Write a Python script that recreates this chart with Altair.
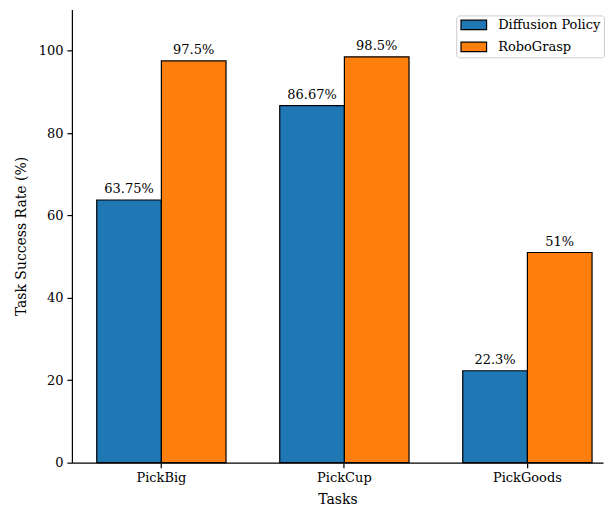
import altair as alt
import pandas as pd

tasks = ["PickBig", "PickCup", "PickGoods"]
methods = ["Diffusion Policy", "RoboGrasp"]
diffusion = [63.75, 86.67, 22.3]
robograsp = [97.5, 98.5, 51.0]
label_diffusion = ["63.75%", "86.67%", "22.3%"]
label_robograsp = ["97.5%", "98.5%", "51%"]
colors = ["#1f77b4", "#ff7f0e"]

rows = []
for i, t in enumerate(tasks):
    rows.append({"task": t, "method": methods[0], "value": diffusion[i], "label": label_diffusion[i]})
    rows.append({"task": t, "method": methods[1], "value": robograsp[i], "label": label_robograsp[i]})
df = pd.DataFrame(rows)

FONT = "DejaVu Serif"

x = alt.X("task:N", sort=tasks, title="Tasks",
          scale=alt.Scale(paddingInner=0.2935, paddingOuter=0.0978, align=0.694),
          axis=alt.Axis(labelAngle=0, bandPosition=0.5, tickSize=5, labelPadding=4,
                        titlePadding=8, labelFontSize=13, titleFontSize=14,
                        domainColor="black", tickColor="black", labelColor="black",
                        titleColor="black", labelFont=FONT, titleFont=FONT,
                        titleFontWeight="normal", grid=False))
xoff = alt.XOffset("method:N", sort=methods, scale=alt.Scale(paddingInner=0, paddingOuter=0))
y = alt.Y("value:Q", title="Task Success Rate (%)",
          scale=alt.Scale(domain=[0, 110], nice=False),
          axis=alt.Axis(values=[0, 20, 40, 60, 80, 100], tickSize=5, labelPadding=4,
                        titlePadding=10, labelFontSize=13, titleFontSize=14,
                        domainColor="black", tickColor="black", labelColor="black",
                        titleColor="black", labelFont=FONT, titleFont=FONT,
                        titleFontWeight="normal", grid=False))

# wide rectangle swatch (path in -1..1 units, scaled by sqrt(size)/2)
rect_path = "M-1,-1L4.4,-1L4.4,1L-1,1Z"

bars = alt.Chart(df).mark_bar(stroke="black", strokeWidth=1.2).encode(
    x=x, xOffset=xoff, y=y,
    color=alt.Color("method:N", sort=methods, title=None,
                    scale=alt.Scale(domain=methods, range=colors),
                    legend=alt.Legend(orient="none", legendX=385, legendY=6, labelFont=FONT,
                                      labelFontSize=13, labelColor="black",
                                      symbolType=rect_path, symbolSize=90,
                                      symbolStrokeColor="black", symbolStrokeWidth=1.2,
                                      symbolOpacity=1, labelOffset=26,
                                      strokeColor="#cccccc", padding=3, cornerRadius=3,
                                      fillColor="white", rowPadding=7)),
)

text = alt.Chart(df).mark_text(baseline="bottom", dy=-4, fontSize=13, font=FONT, color="black").encode(
    x=x, xOffset=xoff, y=y, text="label:N"
)

chart = alt.layer(bars, text).properties(
    width=532, height=454,
    padding={"left": 6, "top": 1, "right": 0, "bottom": 0},
).configure_view(stroke=None).configure_axis(domainWidth=1.2, tickWidth=1.2)

chart.save("out.html", embed_options={"renderer": "svg", "actions": False})
